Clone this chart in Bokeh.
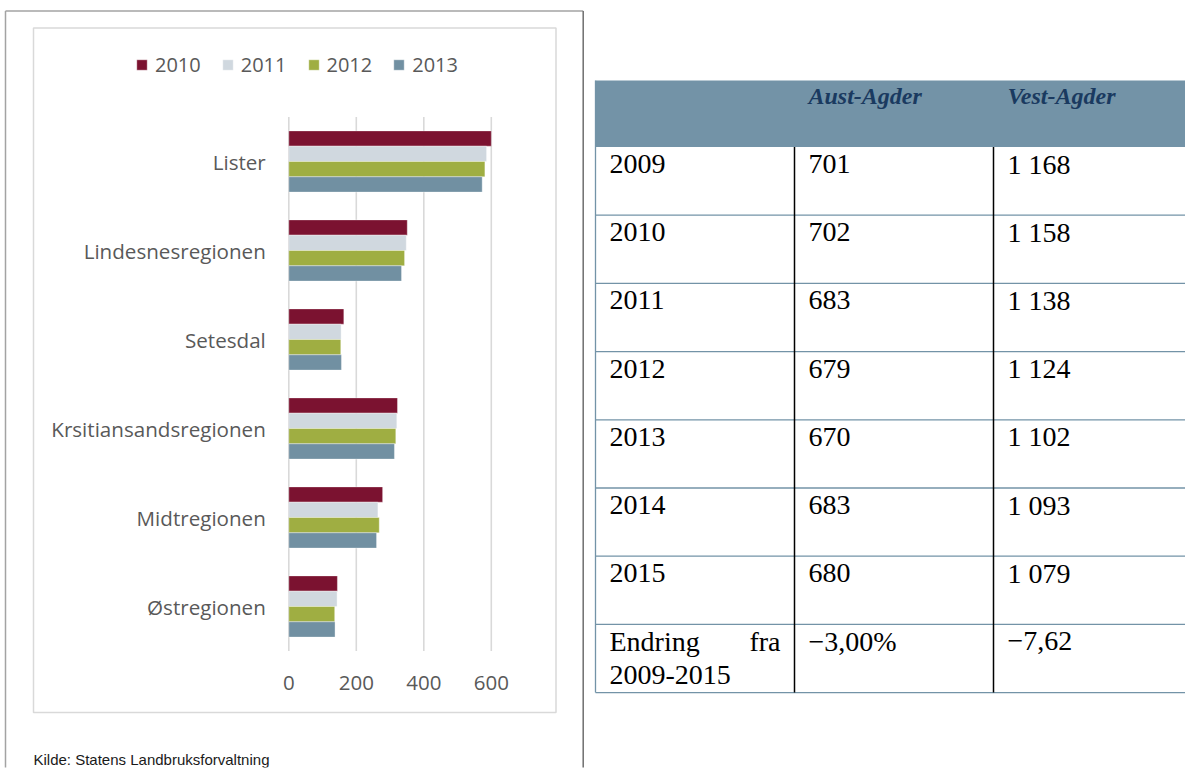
from bokeh.plotting import figure
from bokeh.models import (Range1d, FactorRange, FixedTicker, Legend, LegendItem,
                          LinearAxis, CategoricalAxis, ColumnDataSource)
from bokeh.transform import dodge
from bokeh.embed import file_html
from bokeh.resources import INLINE
from bokeh.core.properties import value

# ---------------- data ----------------
regions = ["Lister", "Lindesnesregionen", "Setesdal", "Krsitiansandsregionen",
           "Midtregionen", "Østregionen"]
years = ["2010", "2011", "2012", "2013"]
v2010 = [600, 351, 163, 322, 278, 144]
v2011 = [586, 348, 155, 320, 264, 143]
v2012 = [581, 343, 154, 317, 268, 136]
v2013 = [573, 334, 156, 313, 260, 137]
x_ticks = [0, 200, 400, 600]
source_text = "Kilde: Statens Landbruksforvaltning"

tbl_header = ["", "Aust-Agder", "Vest-Agder"]
tbl_years = ["2009", "2010", "2011", "2012", "2013", "2014", "2015"]
aust_agder = [701, 702, 683, 679, 670, 683, 680]
vest_agder = [1168, 1158, 1138, 1124, 1102, 1093, 1079]
change_label = ["Endring", "fra", "2009-2015"]
change_aust = "\u22123,00%"
change_vest = "\u22127,62"

# ---------------- styles / layout ----------------
colors = ["#7B1230", "#D0D8DF", "#9FAE42", "#7190A2"]
GREY_TXT = "#595959"
HDR = "#7393A7"
SANS = "Open Sans"
SERIF = "Liberation Serif"

W, H = 1185, 773
FRAME_BOTTOM = 767          # page px at the bottom of the plot frame
X0 = 288.3                  # page x of value 0 on the bar axis
PXU = 202.5 / 600           # pixels per unit on the bar axis
CAT_TOP, CAT_H = 116.5, 89.0
PAD = CAT_TOP / CAT_H       # category padding (same above and below)


def Y(py):
    """page y (px, from top) -> category synthetic coordinate"""
    return (FRAME_BOTTOM - py) / CAT_H - PAD


ycat = FactorRange(factors=list(reversed(regions)), range_padding=PAD,
                   range_padding_units="absolute")
p = figure(width=W, height=H, x_range=Range1d(0, W), y_range=ycat,
           min_border_left=0, min_border_right=0, min_border_top=0,
           min_border_bottom=H - FRAME_BOTTOM, x_axis_location=None, y_axis_location=None,
           output_backend="svg", toolbar_location=None)
p.grid.visible = False
p.outline_line_color = None
p.extra_x_ranges = {"val": Range1d(-X0 / PXU, (W - X0) / PXU)}

# ---------------- decorations (page coordinates) ----------------
p.segment(x0=[5, 5], y0=[Y(10.5), Y(10.5)], x1=[582.7, 5], y1=[Y(10.5), Y(800)],
          line_color="#A3A3A3", line_width=1.5)
p.segment(x0=[582.7], y0=[Y(10.5)], x1=[582.7], y1=[Y(800)], line_color="#6E6E6E",
          line_width=1.5)
p.quad(left=[33], right=[555.5], top=[Y(27.5)], bottom=[Y(712)], fill_color=None,
       line_color="#D9D9D9", line_width=1.5)
p.text(x=[33], y=[Y(758.5)], text=[source_text], text_font=value("Liberation Sans"),
       text_font_size="15px", text_color="#1A1A1A", text_baseline="middle")

# ---------------- bar chart ----------------
p.segment(x0=x_ticks, x1=x_ticks, y0=[0] * len(x_ticks), y1=[len(regions)] * len(x_ticks),
          x_range_name="val", line_color="#D9D9D9", line_width=1.6)

src = ColumnDataSource(dict(region=regions, y2010=v2010, y2011=v2011,
                            y2012=v2012, y2013=v2013))
offsets = [0.258, 0.086, -0.086, -0.258]
renderers = []
for yr, col, off in zip(years, colors, offsets):
    r = p.hbar(y=dodge("region", off, range=ycat), left=0, right="y" + yr,
               height=0.172, source=src, fill_color=col,
               line_color="white", line_width=0.6, line_alpha=0.6,
               x_range_name="val")
    renderers.append(r)

xa = LinearAxis(x_range_name="val", fixed_location=0, ticker=FixedTicker(ticks=x_ticks))
ya = CategoricalAxis(x_range_name="val", fixed_location=0)
for ax in (xa, ya):
    ax.axis_line_color = None
    ax.major_tick_line_color = None
    ax.minor_tick_line_color = None
    ax.major_label_text_color = GREY_TXT
    ax.major_label_text_font = SANS
xa.major_label_text_font_size = "20.5px"
xa.major_label_standoff = 19
ya.major_label_text_font_size = "20.6px"
ya.major_label_standoff = 17
p.add_layout(xa, "below")
p.add_layout(ya, "left")

legend = Legend(items=[LegendItem(label=yr, renderers=[r]) for yr, r in zip(years, renderers)],
                orientation="horizontal", location=(135, FRAME_BOTTOM - 78),
                glyph_width=13, glyph_height=13, label_height=13, label_standoff=7,
                spacing=20, padding=0, margin=0, border_line_color=None,
                background_fill_alpha=0, label_text_font=SANS,
                label_text_font_size="20px", label_text_color=GREY_TXT)
p.add_layout(legend)

# ---------------- table (page coordinates) ----------------
col_edges = [595, 794, 993, 1185]
hdr_top = 80
row_top0 = 146.5
row_h = 68.2
n_rows = len(tbl_years) + 1
edges = [row_top0 + i * row_h for i in range(n_rows + 1)]
pad = 14
col_x = [c + pad for c in col_edges[:3]]
TXT_DY = 17          # baseline offset inside a row
HDR_DY = 15          # baseline offset inside the header

p.quad(left=[col_edges[0]], right=[col_edges[-1]], top=[Y(hdr_top)], bottom=[Y(row_top0)],
       fill_color=HDR, line_color=None)
p.segment(x0=[col_edges[0]] * n_rows, x1=[col_edges[-1]] * n_rows,
          y0=[Y(e) for e in edges[1:]], y1=[Y(e) for e in edges[1:]],
          line_color=HDR, line_width=1.3)
p.segment(x0=[col_edges[0]], x1=[col_edges[0]], y0=[Y(hdr_top)], y1=[Y(edges[-1])],
          line_color=HDR, line_width=1.3)
p.segment(x0=col_edges[1:3], x1=col_edges[1:3], y0=[Y(row_top0)] * 2, y1=[Y(edges[-1])] * 2,
          line_color="black", line_width=1.5)

p.text(x=col_x[1:], y=[Y(hdr_top + HDR_DY)] * 2, text=tbl_header[1:], text_font=value(SERIF),
       text_font_style="bold italic", text_font_size="24px", text_color="#1A3A60",
       text_baseline="alphabetic")


def fmt(v):
    return f"{v:,}".replace(",", " ")


base = [Y(edges[i] + TXT_DY) for i in range(len(tbl_years))]
tstyle = dict(text_font=value(SERIF), text_font_size="28px", text_color="black",
              text_baseline="alphabetic")
p.text(x=[col_x[0]] * len(tbl_years), y=base, text=tbl_years, **tstyle)
p.text(x=[col_x[1]] * len(tbl_years), y=base, text=[str(v) for v in aust_agder], **tstyle)
p.text(x=[col_x[2]] * len(tbl_years), y=base, text=[fmt(v) for v in vest_agder], **tstyle)

last = edges[len(tbl_years)] + TXT_DY
p.text(x=[col_x[0], col_x[0]], y=[Y(last), Y(last + 34)],
       text=[change_label[0], change_label[2]], **tstyle)
p.text(x=[col_edges[1] - 14], y=[Y(last)], text=[change_label[1]], text_align="right", **tstyle)
p.text(x=[col_x[1], col_x[2]], y=[Y(last), Y(last)], text=[change_aust, change_vest], **tstyle)

open("out.html", "w").write(file_html(p, INLINE))
